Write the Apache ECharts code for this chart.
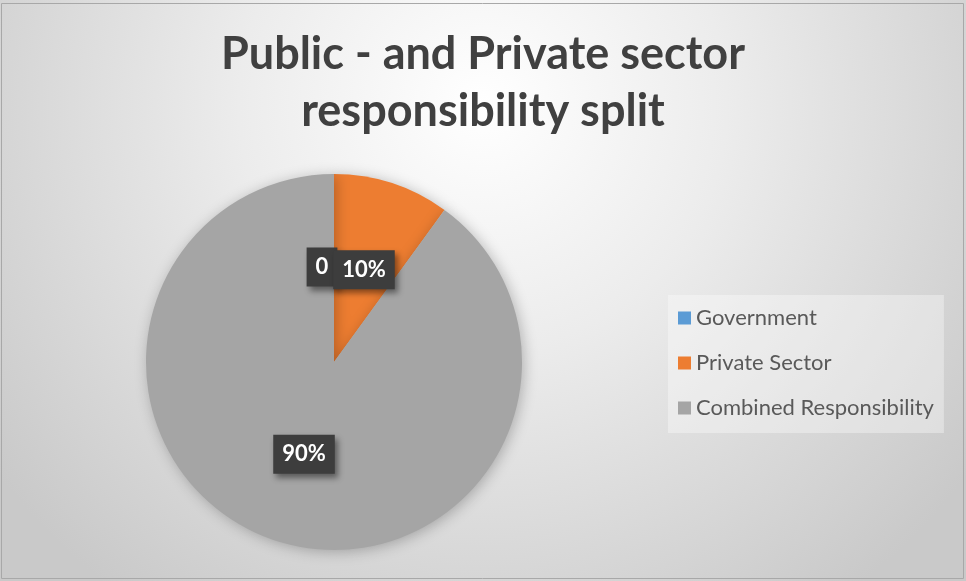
<!DOCTYPE html>
<html>
<head>
<meta charset="utf-8">
<script src="https://cdn.jsdelivr.net/npm/echarts@6/dist/echarts.min.js"></script>
<style>
  html, body { margin: 0; padding: 0; }
  #chart { width: 966px; height: 581px; }
</style>
</head>
<body>
<div id="chart"></div>
<script>
// Responsibility split shares
const categories = ['Government', 'Private Sector', 'Combined Responsibility'];
const values = [0, 10, 90];
const sliceColors = ['#5B9BD5', '#ED7D31', '#A5A5A5'];
const titleText = 'Public - and Private sector\nresponsibility split';

const chart = echarts.init(document.getElementById('chart'));

const pieData = categories.map((name, i) => ({
  name: name,
  value: values[i],
  itemStyle: { color: sliceColors[i] }
}));

chart.setOption({
  backgroundColor: new echarts.graphic.RadialGradient(0.5, 0.18, 1.05, [
    { offset: 0, color: '#ffffff' },
    { offset: 0.4, color: '#ececec' },
    { offset: 1, color: '#c9c9c9' }
  ]),
  title: {
    text: titleText,
    left: 'center',
    top: 21,
    textStyle: {
      fontFamily: 'Lato',
      fontWeight: 'bold',
      fontSize: 45,
      lineHeight: 57,
      color: '#404040'
    }
  },
  legend: {
    orient: 'vertical',
    left: 668,
    top: 295,
    padding: [12, 10, 14, 10],
    backgroundColor: 'rgba(255,255,255,0.35)',
    itemWidth: 13,
    itemHeight: 13,
    itemGap: 23,
    icon: 'rect',
    data: categories,
    textStyle: {
      fontFamily: 'Lato',
      fontSize: 22,
      lineHeight: 22,
      color: '#595959',
      padding: [0, 0, 0, 0]
    }
  },
  graphic: [{
    type: 'rect',
    shape: { x: 1.5, y: 3.5, width: 962, height: 575 },
    style: { fill: 'none', stroke: '#a8a8a8', lineWidth: 1 },
    silent: true
  }],
  series: [{
    type: 'pie',
    center: [334, 362],
    radius: 188,
    startAngle: 90,
    clockwise: true,
    avoidLabelOverlap: false,
    animation: false,
    data: pieData,
    itemStyle: {
      shadowColor: 'rgba(0,0,0,0.25)',
      shadowBlur: 14,
      shadowOffsetX: 2,
      shadowOffsetY: 2
    },
    label: {
      show: true,
      position: 'inside',
      formatter: p => (p.value === 0 ? '0' : Math.round(p.percent) + '%'),
      fontFamily: 'Lato',
      fontWeight: 'bold',
      fontSize: 22,
      color: '#ffffff',
      backgroundColor: '#3d3d3d',
      padding: [9, 9, 8, 9],
      shadowColor: 'rgba(0,0,0,0.45)',
      shadowBlur: 6,
      shadowOffsetX: 3,
      shadowOffsetY: 4
    },
    labelLine: { show: false },
    labelLayout: function (params) {
      if (params.dataIndex === 0) {
        return { dx: -12, dy: 2 };
      }
      return {};
    }
  }]
});
</script>
</body>
</html>
